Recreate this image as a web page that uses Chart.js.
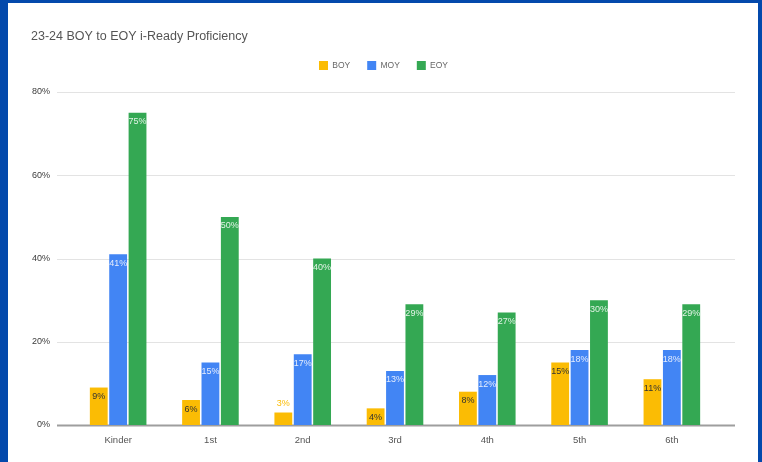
<!DOCTYPE html>
<html>
<head>
<meta charset="utf-8">
<script src="https://cdn.jsdelivr.net/npm/chart.js@4.4.1/dist/chart.umd.min.js"></script>
<style>
    body { margin: 0; background: #0349ac; width: 762px; height: 462px; overflow: hidden; }
    #box { position: absolute; left: 8px; top: 3px; width: 750px; height: 459px; background: #fff; }
</style>
</head>
<body>
<div id="box"><canvas id="proficiency-chart" width="750" height="459"></canvas></div>
<script>
const grades = ['Kinder', '1st', '2nd', '3rd', '4th', '5th', '6th']
const boyValues = [9, 6, 3, 4, 8, 15, 11]
const moyValues = [41, 15, 17, 13, 12, 18, 18]
const eoyValues = [75, 50, 40, 29, 27, 30, 29]
const yTicks = [0, 20, 40, 60, 80]

const labelColors = ['#333333', '#e4ecfd', '#e2f3e6']

// grid lines that run a bit past the bars, like the sheets chart
const gridPlugin = {
    id: 'wideGrid',
    beforeDatasetsDraw(chart) {
        const ctx = chart.ctx
        const area = chart.chartArea
        const y = chart.scales.y
        ctx.save()
        yTicks.forEach(v => {
            const py = Math.round(y.getPixelForValue(v)) + 0.5
            ctx.beginPath()
            ctx.strokeStyle = v === 0 ? '#9e9e9e' : '#e3e3e3'
            ctx.lineWidth = v === 0 ? 2 : 1
            ctx.moveTo(area.left - 15, py)
            ctx.lineTo(area.right + 17, py)
            ctx.stroke()
        })
        ctx.restore()
    }
}

// extra room under the legend, and nudge it right a little
const legendGapPlugin = {
    id: 'legendGap',
    beforeInit(chart) {
        const legend = chart.legend
        const fit = legend.fit
        legend.fit = function() {
            fit.bind(legend)()
            this.height += 12
        }
        const draw = legend.draw
        legend.draw = function() {
            legend.ctx.save()
            legend.ctx.translate(9, 0)
            draw.bind(legend)()
            legend.ctx.restore()
        }
    }
}

const barLabelPlugin = {
    id: 'barLabels',
    afterDatasetsDraw(chart) {
        const ctx = chart.ctx
        ctx.save()
        ctx.font = '9px "Liberation Sans", Arial, sans-serif'
        ctx.textAlign = 'center'
        ctx.textBaseline = 'middle'
        chart.data.datasets.forEach((ds, i) => {
            const meta = chart.getDatasetMeta(i)
            meta.data.forEach((bar, j) => {
                const text = ds.data[j] + '%'
                const h = bar.base - bar.y
                if (h < 15) {
                    ctx.fillStyle = ds.backgroundColor
                    ctx.fillText(text, bar.x, bar.y - 9)
                } else {
                    ctx.fillStyle = labelColors[i]
                    ctx.fillText(text, bar.x, bar.y + 9)
                }
            })
        })
        ctx.restore()
    }
}

const ctx = document.getElementById('proficiency-chart')
const myChart = new Chart(ctx, {
    type: 'bar',
    data: {
        labels: grades,
        datasets: [{
            label: 'BOY',
            data: boyValues,
            backgroundColor: '#fbbc04',
            categoryPercentage: 0.63,
            barPercentage: 0.92
        }, {
            label: 'MOY',
            data: moyValues,
            backgroundColor: '#4285f4',
            categoryPercentage: 0.63,
            barPercentage: 0.92
        }, {
            label: 'EOY',
            data: eoyValues,
            backgroundColor: '#34a853',
            categoryPercentage: 0.63,
            barPercentage: 0.92
        }]
    },
    options: {
        responsive: false,
        animation: false,
        layout: {
            padding: { left: 23, right: 40, top: 0, bottom: 0 }
        },
        scales: {
            x: {
                grid: { display: false, drawTicks: false },
                border: { display: false },
                ticks: {
                    padding: 10,
                    color: '#555',
                    font: { size: 9.5, family: '"Liberation Sans", Arial, sans-serif' }
                },
                afterFit(scale) { scale.height = 37 }
            },
            y: {
                min: 0,
                max: 80,
                grid: { display: false, drawTicks: false },
                border: { display: false },
                ticks: {
                    stepSize: 20,
                    padding: 22,
                    color: '#3a3a3a',
                    callback: v => v + '%',
                    font: { size: 9, family: '"Liberation Sans", Arial, sans-serif' }
                },
                afterFit(scale) { scale.width = 41 }
            }
        },
        plugins: {
            tooltip: { enabled: false },
            title: {
                display: true,
                text: '23-24 BOY to EOY i-Ready Proficiency',
                align: 'start',
                color: '#555',
                padding: { top: 26, bottom: 0 },
                font: { size: 12.5, weight: 'normal', family: '"Liberation Sans", Arial, sans-serif' }
            },
            legend: {
                display: true,
                labels: {
                    boxWidth: 9,
                    boxHeight: 9,
                    padding: 17,
                    color: '#666',
                    font: { size: 8.5, family: '"Liberation Sans", Arial, sans-serif' }
                }
            }
        }
    },
    plugins: [gridPlugin, legendGapPlugin, barLabelPlugin]
})
</script>
</body>
</html>
